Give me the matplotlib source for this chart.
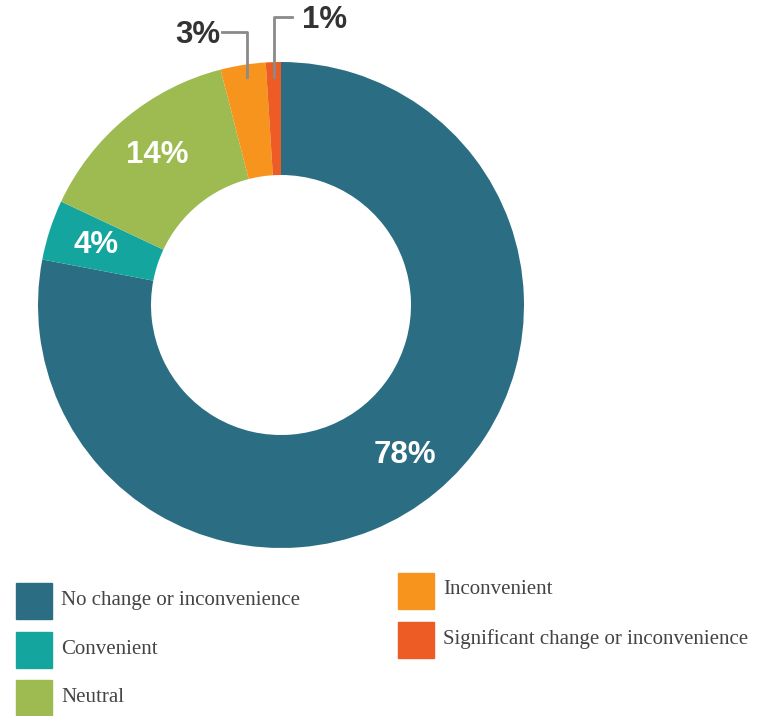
import numpy as np
import matplotlib.pyplot as plt
from matplotlib.patches import Rectangle

categories = ["No change or inconvenience", "Convenient", "Neutral",
              "Inconvenient", "Significant change or inconvenience"]
shares = [78, 4, 14, 3, 1]
colors = ["#2b6e83", "#14a59f", "#9dbb50", "#f7941e", "#ec5c24"]

W, H = 763, 716
fig = plt.figure(figsize=(W / 100, H / 100), dpi=100)

# donut: centre (281, 305) px, outer radius 243 px
cx, cy, r = 281, 305, 243
ax = fig.add_axes([(cx - r) / W, (H - cy - r) / H, 2 * r / W, 2 * r / H])
wedges, _ = ax.pie(shares, colors=colors, startangle=90, counterclock=False,
                   radius=1, wedgeprops=dict(width=0.465, linewidth=0))
ax.set_xlim(-1, 1)
ax.set_ylim(-1, 1)
ax.set_aspect("equal")
ax.axis("off")

# inside labels for the larger wedges
for w, v in zip(wedges, shares):
    if v < 4:
        continue
    ang = np.deg2rad((w.theta1 + w.theta2) / 2)
    ax.text(0.8 * np.cos(ang), 0.8 * np.sin(ang), f"{v}%", color="white",
            fontsize=22.5, fontweight="bold", ha="center", va="center",
            family="Liberation Sans")


def px(x, y):
    return (x / W, 1 - y / H)


# small wedges get callouts above the ring
grey = "#8a8a8a"
fig.add_artist(plt.Line2D([222 / W, 247 / W, 247 / W],
                          [1 - 32 / H, 1 - 32 / H, 1 - 77 / H],
                          color=grey, lw=2))
fig.add_artist(plt.Line2D([274 / W, 274 / W, 292 / W],
                          [1 - 77 / H, 1 - 17 / H, 1 - 17 / H],
                          color=grey, lw=2))
fig.text(*px(220, 35), f"{shares[3]}%", color="#333333", fontsize=22.5,
         fontweight="bold", ha="right", va="center", family="Liberation Sans")
fig.text(*px(302, 20), f"{shares[4]}%", color="#333333", fontsize=22.5,
         fontweight="bold", ha="left", va="center", family="Liberation Sans")

# legend in two columns
legend_pos = [(16, 583), (16, 632), (16, 680), (398, 573), (398, 622)]
for (x, y), name, c in zip(legend_pos, categories, colors):
    fig.add_artist(Rectangle(px(x, y + 36), 36 / W, 36 / H, color=c,
                             transform=fig.transFigure))
    fig.text(*px(x + 45, y + 17), name, fontsize=15, color="#444444",
             ha="left", va="center", family="Liberation Serif")

fig.savefig("out.png", dpi=100, facecolor="white")
